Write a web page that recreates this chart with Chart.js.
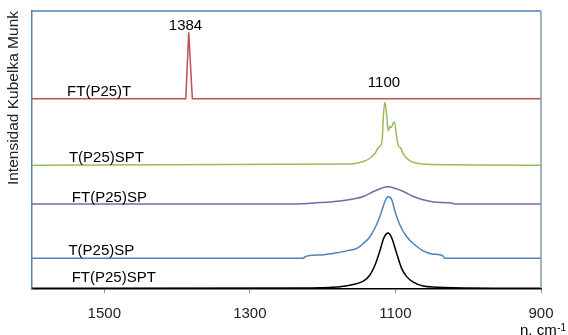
<!DOCTYPE html>
<html>
<head>
<meta charset="utf-8">
<script src="https://cdn.jsdelivr.net/npm/chart.js@4/dist/chart.umd.min.js"></script>
<style>
  html, body { margin: 0; padding: 0; background: #fff; }
  #wrap { width: 568px; height: 335px; }
</style>
</head>
<body>
<div id="wrap"><canvas id="kmChart"></canvas></div>
<script>
// x axis ticks (n, cm-1)
const xTicks = [1500, 1300, 1100, 900];

// spectra, already offset on the intensity axis
const ftP25TX = [1600, 1388, 1384, 1379, 900];
const ftP25TY = [68.4, 68.4, 92.3, 68.4, 68.4];

const tP25SPTX = [1600, 1162, 1144, 1135, 1128, 1124, 1120, 1118, 1117, 1114.5, 1112, 1110, 1107.5, 1105.5, 1103, 1101.5, 1098, 1096, 1093, 1089, 1084.5, 1078, 1066, 1052, 900];
const tP25SPTY = [44.4, 44.8, 45.7, 46.9, 48.7, 50.5, 51.7, 54.1, 60.1, 67.1, 62.5, 56.8, 58.4, 58.0, 59.6, 60.1, 54.1, 51.4, 50.7, 48.4, 46.9, 45.7, 44.9, 44.6, 44.4];

const ftP25SPX = [1600, 1240, 1204, 1176, 1158, 1144, 1130, 1119, 1110, 1101, 1089, 1075.5, 1062, 1043, 1021, 1020, 900];
const ftP25SPY = [30.4, 30.4, 30.9, 31.5, 32.2, 33.1, 34.9, 36.1, 36.6, 36.1, 34.9, 33.1, 31.9, 31.0, 30.7, 30.4, 30.4];

const tP25SPX = [1600, 1226, 1225, 1204, 1185, 1167, 1153, 1144, 1135, 1126, 1119, 1114.5, 1110, 1105, 1100.5, 1094, 1084.5, 1073, 1062, 1048, 1034.5, 1033, 900];
const tP25SPY = [10.8, 10.8, 11.3, 12.0, 12.6, 13.5, 14.4, 16.2, 18.6, 22.9, 27.7, 31.3, 33.0, 31.9, 27.7, 22.9, 18.6, 15.6, 13.5, 12.3, 11.7, 10.8, 10.8];

const ftP25SPTX = [1600, 1231, 1204, 1176, 1158, 1144, 1135, 1128, 1121, 1116, 1110, 1105, 1099, 1091.5, 1084.5, 1075.5, 1062, 1043, 1020, 900];
const ftP25SPTY = [0, 0.1, 0.2, 0.6, 1.4, 2.6, 4.8, 8.4, 13.8, 18.1, 19.9, 18.1, 13.2, 7.2, 4.2, 2.2, 0.8, 0.4, 0.2, 0];

// labels written next to each trace
const seriesNames = ['FT(P25)T', 'T(P25)SPT', 'FT(P25)SP', 'T(P25)SP', 'FT(P25)SPT'];
const nameX = [1507, 1497, 1493, 1504, 1487];
const nameY = [70.8, 46.9, 32.6, 13.5, 3.9];

// peak position labels
const peakText = ['1384', '1100'];
const peakX = [1388.4, 1115.7];
const peakY = [94.7, 74.1];

const font = '"Liberation Sans", Arial, sans-serif';

function pts(xs, ys) {
    return xs.map((v, i) => ({ x: v, y: ys[i] }));
}

const textLabels = {
    id: 'textLabels',
    afterDatasetsDraw(chart) {
        const { ctx, chartArea, scales: { x, y } } = chart;
        ctx.save();

        // top and right edges of the plot frame
        ctx.lineWidth = 1.5;
        ctx.strokeStyle = '#4f81bd';
        ctx.beginPath();
        ctx.moveTo(chartArea.left, chartArea.top);
        ctx.lineTo(chartArea.right, chartArea.top);
        ctx.stroke();
        ctx.strokeStyle = '#8497b0';
        ctx.beginPath();
        ctx.moveTo(chartArea.right, chartArea.top);
        ctx.lineTo(chartArea.right, chartArea.bottom);
        ctx.stroke();

        ctx.fillStyle = '#000';
        ctx.textAlign = 'center';
        ctx.textBaseline = 'middle';
        ctx.font = '15px ' + font;
        seriesNames.forEach((n, i) => {
            ctx.fillText(n, x.getPixelForValue(nameX[i]), y.getPixelForValue(nameY[i]));
        });
        peakText.forEach((t, i) => {
            ctx.fillText(t, x.getPixelForValue(peakX[i]), y.getPixelForValue(peakY[i]));
        });

        // x axis unit, bottom right
        ctx.textAlign = 'left';
        ctx.textBaseline = 'alphabetic';
        ctx.font = '15px ' + font;
        ctx.fillText('n. cm', 520, 334.5);
        const w = ctx.measureText('n. cm').width;
        ctx.font = '10px ' + font;
        ctx.fillText('-1', 520 + w + 0.5, 331);
        ctx.restore();
    }
};

document.addEventListener('DOMContentLoaded', function() {
    const ctx = document.getElementById('kmChart');

    const line = (label, xs, ys, color, extra) => Object.assign({
        label: label,
        data: pts(xs, ys),
        borderColor: color,
        backgroundColor: color,
        borderWidth: 1.5,
        pointRadius: 0,
        cubicInterpolationMode: 'monotone',
        fill: false
    }, extra || {});

    new Chart(ctx, {
        type: 'line',
        data: {
            datasets: [
                line('FT(P25)T', ftP25TX, ftP25TY, '#c0504d', { tension: 0, cubicInterpolationMode: 'default' }),
                line('T(P25)SPT', tP25SPTX, tP25SPTY, '#9bbb59'),
                line('FT(P25)SP', ftP25SPX, ftP25SPY, '#8064a2'),
                line('T(P25)SP', tP25SPX, tP25SPY, '#4f81bd'),
                line('FT(P25)SPT', ftP25SPTX, ftP25SPTY, '#000000')
            ]
        },
        options: {
            responsive: true,
            maintainAspectRatio: false,
            animation: false,
            layout: { padding: { top: 11, right: 27, left: 0, bottom: 0 } },
            plugins: {
                legend: { display: false },
                tooltip: { enabled: false }
            },
            scales: {
                x: {
                    type: 'linear',
                    min: 900,
                    max: 1600,
                    reverse: true,
                    afterBuildTicks: function(scale) {
                        scale.ticks = xTicks.map(v => ({ value: v }));
                    },
                    afterFit: function(scale) {
                        scale.height = 46.7;
                    },
                    ticks: {
                        padding: 12,
                        color: '#222',
                        font: { family: font, size: 15 },
                        callback: function(value) {
                            return String(value);
                        }
                    },
                    grid: {
                        drawOnChartArea: false,
                        drawTicks: true,
                        tickLength: 5,
                        color: '#999'
                    },
                    border: { color: '#000', width: 1.5 }
                },
                y: {
                    min: 0,
                    max: 100,
                    afterFit: function(scale) {
                        scale.width = 31.5;
                    },
                    ticks: { display: false },
                    grid: { display: false },
                    border: { color: '#4f81bd', width: 1.5 },
                    title: {
                        display: true,
                        text: 'Intensidad Kubelka Munk',
                        align: 'end',
                        color: '#222',
                        font: { family: font, size: 15.5 },
                        padding: { top: 4, bottom: 0 }
                    }
                }
            }
        },
        plugins: [textLabels]
    });
});
</script>
</body>
</html>
